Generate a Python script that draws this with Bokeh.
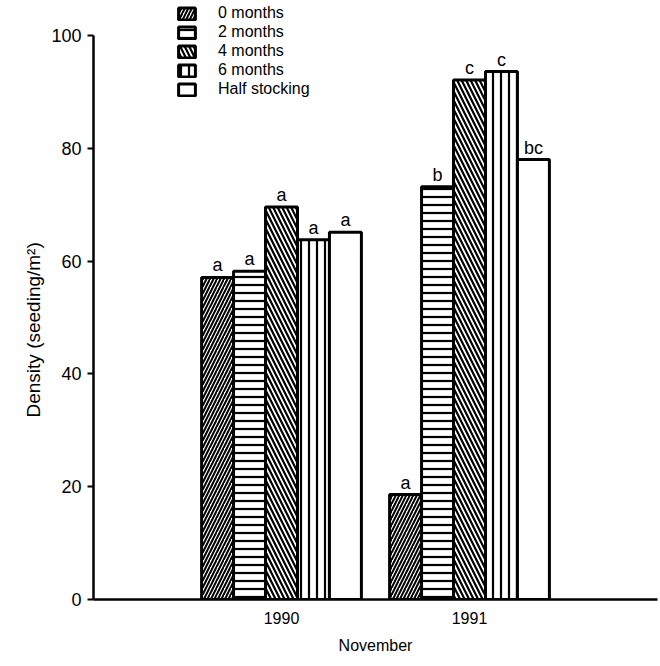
from bokeh.plotting import figure
from bokeh.models import Range1d, FixedTicker, Legend, LegendItem, ColumnDataSource, Title
from bokeh.core.properties import value
from bokeh.embed import file_html
from bokeh.resources import INLINE

years = ["1990", "1991"]
treatments = ["0 months", "2 months", "4 months", "6 months", "Half stocking"]
density_1990 = [57.1, 58.2, 69.6, 63.8, 65.1]
density_1991 = [18.6, 73.2, 92.1, 93.6, 78.0]
letters_1990 = ["a", "a", "a", "a", "a"]
letters_1991 = ["a", "b", "c", "c", "bc"]

FONT = "Liberation Sans"
hatches = ["/", "-", "\\", "|", " "]
hatch_scales = [7, 8, 9, 8, 8]
hatch_weights = [2, 2.2, 2.2, 2.2, 1]

# frame spans the full canvas height above the x axis; value 100 sits 35 px below the top
y_top = 100 * 599 / 564

p = figure(width=660, height=666, output_backend="svg", toolbar_location=None,
           x_range=Range1d(0, 3), y_range=Range1d(0, y_top),
           min_border_left=93, min_border_right=3, min_border_top=0, min_border_bottom=67)
p.outline_line_color = None
p.xgrid.grid_line_color = None
p.ygrid.grid_line_color = None
p.background_fill_color = "white"

bw = 0.17
items = []
for i, t in enumerate(treatments):
    off = (i - 2) * bw
    src = ColumnDataSource(dict(
        x=[1 + off, 2 + off],
        top=[density_1990[i], density_1991[i]],
        lab=[letters_1990[i], letters_1991[i]],
    ))
    r = p.vbar(x="x", top="top", bottom=0, width=bw, source=src,
               fill_color="white", line_color="black", line_width=3,
               hatch_pattern=hatches[i], hatch_color="black",
               hatch_scale=hatch_scales[i], hatch_weight=hatch_weights[i])
    p.text(x="x", y="top", text="lab", source=src, text_align="center",
           text_baseline="bottom", y_offset=-2, text_font=value(FONT),
           text_font_size="18px", text_color="black")
    items.append(LegendItem(label=t, renderers=[r]))

legend = Legend(items=items, location=(83, 501), orientation="vertical",
                glyph_width=21, glyph_height=15, label_height=15, spacing=1,
                label_standoff=21, padding=0, margin=0,
                label_text_font=FONT, label_text_font_size="16px",
                label_text_color="black",
                border_line_color=None, background_fill_alpha=0)
p.add_layout(legend, "center")

# y axis
ya = p.yaxis[0]
ya.ticker = FixedTicker(ticks=[0, 20, 40, 60, 80, 100])
ya.bounds = (0, 100)
ya.major_label_text_font = FONT
ya.major_label_text_font_size = "18px"
ya.major_label_text_color = "black"
ya.major_label_standoff = 6
ya.major_tick_out = 6
ya.major_tick_in = 0
ya.minor_tick_out = 0
ya.minor_tick_in = 0
ya.axis_line_width = 2.5
ya.axis_line_color = "black"
ya.major_tick_line_width = 2
ya.major_tick_line_color = "black"

ylab = Title(text="Density (seeding/m²)", align="left", offset=182, standoff=10,
             text_font=FONT, text_font_size="19px", text_font_style="normal",
             text_color="black")
p.add_layout(ylab, "left")

# x axis
xa = p.xaxis[0]
xa.ticker = FixedTicker(ticks=[1, 2])
xa.major_label_overrides = {1: years[0], 2: years[1]}
xa.axis_label = "November"
xa.axis_label_text_font = FONT
xa.axis_label_text_font_style = "normal"
xa.axis_label_text_font_size = "16px"
xa.axis_label_text_color = "black"
xa.axis_label_standoff = 10
xa.major_label_text_font = FONT
xa.major_label_text_font_size = "16px"
xa.major_label_text_color = "black"
xa.major_label_standoff = 12
xa.major_tick_out = 0
xa.major_tick_in = 0
xa.minor_tick_out = 0
xa.minor_tick_in = 0
xa.axis_line_width = 2.5
xa.axis_line_color = "black"

open("out.html", "w").write(file_html(p, INLINE))
